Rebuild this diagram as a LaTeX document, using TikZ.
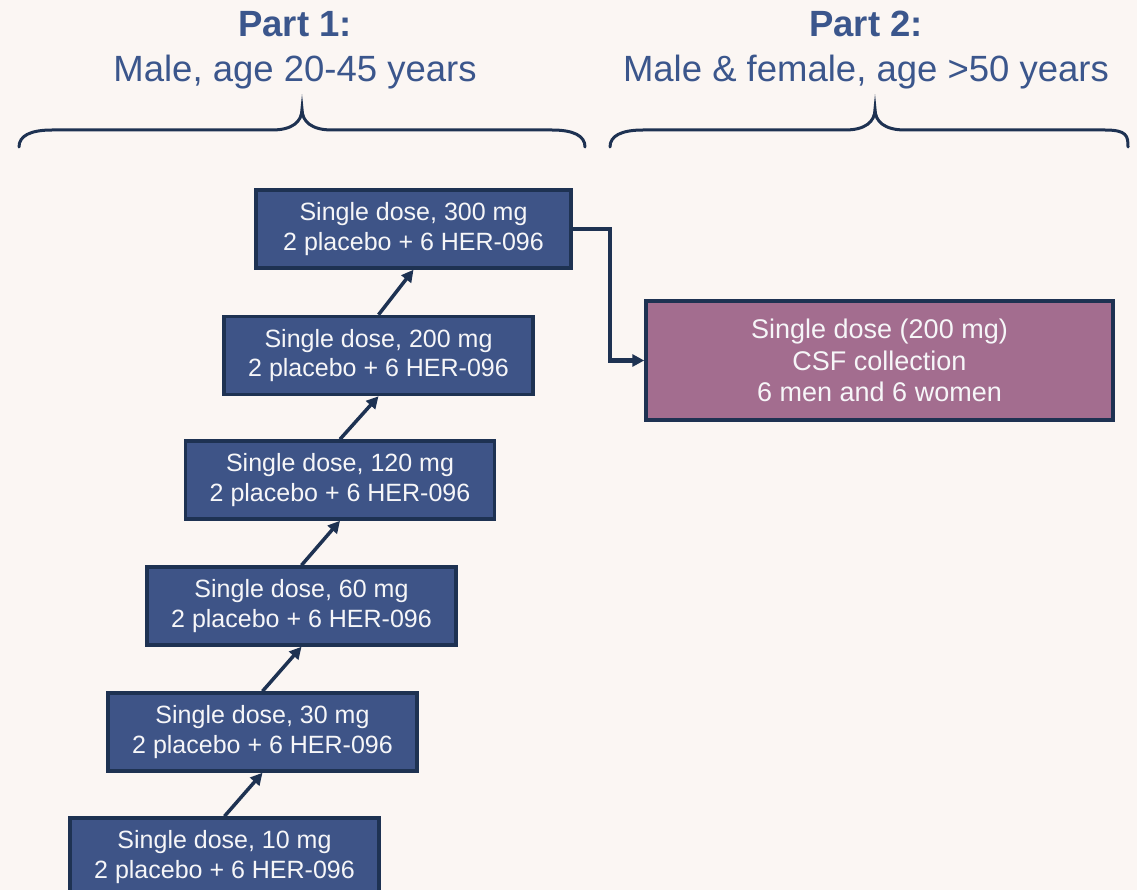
\documentclass[tikz,border=0pt]{standalone}
\usepackage{fontspec}
\setmainfont{Liberation Sans}
\usetikzlibrary{arrows.meta}
\definecolor{bgc}{RGB}{251,246,243}
\definecolor{titlec}{RGB}{59,86,140}
\definecolor{boxc}{RGB}{62,84,135}
\definecolor{edgec}{RGB}{30,50,82}
\definecolor{pinkc}{RGB}{163,109,143}
\definecolor{txtc}{RGB}{246,246,248}
\tikzset{
  dosebox/.style={draw=edgec, line width=3.5pt, fill=boxc, text=txtc,
    minimum width=309pt, minimum height=78pt, inner sep=0pt, align=center,
    font=\fontsize{25}{29.5}\selectfont},
  partbox/.style={draw=edgec, line width=3.5pt, fill=pinkc, text=txtc,
    minimum width=467pt, minimum height=119pt, inner sep=0pt, align=center,
    font=\fontsize{27}{31.5}\selectfont},
  title/.style={text=titlec, align=center, inner sep=0pt,
    font=\fontsize{36.5}{45}\selectfont},
  arr/.style={draw=edgec, line width=3.5pt, -{Triangle[length=12pt,width=12pt]}},
  elbow/.style={arr, line width=4.5pt},
  bracec/.style={draw=edgec, line width=3pt, line cap=round}
}
\begin{document}
\begin{tikzpicture}[x=1pt,y=-1pt]
\useasboundingbox[fill=bgc] (0,0) rectangle (1137,890);
% titles
\node[title] (t1) at (295,50) {\textbf{Part 1:}\\Male, age 20-45 years};
\node[title] (t2) at (866,50) {\textbf{Part 2:}\\Male \& female, age >50 years};
% braces
\draw[bracec] (19,147) .. controls (19,136) and (30,130) .. (52,130) -- (272,130)
  .. controls (292,130) and (302,122) .. (302,109)
  .. controls (302,122) and (312,130) .. (332,130) -- (552,130)
  .. controls (574,130) and (585,136) .. (585,147);
\draw[bracec] (610,147) .. controls (610,136) and (621,130) .. (643,130) -- (845,130)
  .. controls (865,130) and (875,122) .. (875,109)
  .. controls (875,122) and (885,130) .. (905,130) -- (1105,130)
  .. controls (1127,130) and (1128,136) .. (1128,147);
% dose boxes
\node[dosebox, minimum width=315pt] (d300) at (413.5,229) {Single dose, 300 mg\\2 placebo + 6 HER-096};
\node[dosebox] (d200) at (378.5,355.5) {Single dose, 200 mg\\2 placebo + 6 HER-096};
\node[dosebox] (d120) at (340,480) {Single dose, 120 mg\\2 placebo + 6 HER-096};
\node[dosebox] (d60) at (301.5,606) {Single dose, 60 mg\\2 placebo + 6 HER-096};
\node[dosebox] (d30) at (262.5,732) {Single dose, 30 mg\\2 placebo + 6 HER-096};
\node[dosebox] (d10) at (224.5,857) {Single dose, 10 mg\\2 placebo + 6 HER-096};
% part 2 box
\node[partbox] (p2) at (879.5,360.5) {Single dose (200 mg)\\CSF collection\\6 men and 6 women};
% connectors
\draw[arr] (d10.north) -- (d30.south);
\draw[arr] (d30.north) -- (d60.south);
\draw[arr] (d60.north) -- (d120.south);
\draw[arr] (d120.north) -- (d200.south);
\draw[arr] (d200.north) -- (d300.south);
\draw[elbow] (d300.east) -- ++(37,0) |- (p2.west);
\end{tikzpicture}
\end{document}
